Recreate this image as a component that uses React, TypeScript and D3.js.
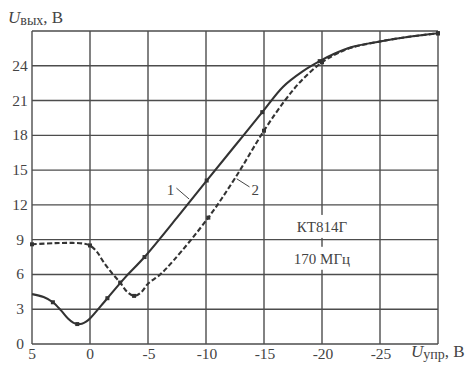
import React from "react";
import * as d3 from "d3";

// Curve 1 (solid) — U_upr, U_out
const curve1U = [5, 4, 3.2, 2.5, 1.9, 1.45, 1.1, 0.7, 0.3, 0, -1.5, -3, -4.7, -7.5, -10.06, -12.5, -14.85, -16.65, -18.3, -19.8, -21.2, -22.5, -25, -27.5, -30];
const curve1V = [4.3, 4.05, 3.6, 2.9, 2.2, 1.85, 1.72, 1.75, 1.95, 2.2, 3.95, 5.7, 7.5, 10.9, 14.1, 17.1, 20.0, 22.2, 23.5, 24.4, 25.1, 25.6, 26.1, 26.5, 26.8];
const curve1MarkU = [3.2, 1.1, -1.5, -4.7, -10.06, -14.85, -19.8, -30];
const curve1MarkV = [3.6, 1.72, 3.95, 7.5, 14.1, 20.0, 24.4, 26.8];

// Curve 2 (dashed)
const curve2U = [5, 3, 1.5, 0.5, 0, -0.6, -1.15, -1.9, -2.6, -3.2, -3.8, -4.4, -5, -6, -7.2, -10.2, -12.5, -15, -16.8, -18.3, -20, -21.2, -22.5, -25, -27.5, -30];
const curve2V = [8.6, 8.7, 8.72, 8.65, 8.5, 7.95, 7.1, 6.1, 5.3, 4.5, 4.15, 4.45, 5.2, 5.95, 7.2, 10.9, 14.3, 18.4, 21.0, 22.8, 24.3, 25.0, 25.55, 26.1, 26.5, 26.8];
const curve2MarkU = [5, 0, -2.6, -3.8, -10.2, -15, -20, -30];
const curve2MarkV = [8.6, 8.5, 5.3, 4.15, 10.9, 18.4, 24.3, 26.8];

const xTicks = [5, 0, -5, -10, -15, -20, -25, -30];
const xTickLabels = ["5", "0", "-5", "-10", "-15", "-20", "-25"];
const yTicks = [0, 3, 6, 9, 12, 15, 18, 21, 24, 27];
const yTickLabels = ["0", "3", "6", "9", "12", "15", "18", "21", "24"];

const deviceLabel = "КТ814Г";
const freqLabel = "170 МГц";

export default function App() {
  const W = 474, H = 373;
  const x = d3.scaleLinear().domain([5, -30]).range([32, 438]);
  const y = d3.scaleLinear().domain([0, 27]).range([344, 31]);
  const line = d3
    .line<[number, number]>()
    .x((d) => x(d[0]))
    .y((d) => y(d[1]))
    .curve(d3.curveCatmullRom.alpha(0.5));
  const c1 = curve1U.map((u, i) => [u, curve1V[i]] as [number, number]);
  const c2 = curve2U.map((u, i) => [u, curve2V[i]] as [number, number]);
  const gridColor = "#4d4d4d";
  const inkColor = "#333";
  const textColor = "#444";
  const font = "'Liberation Serif', 'Times New Roman', 'DejaVu Serif', serif";

  return (
    <svg width={W} height={H} style={{ position: "absolute", left: 0, top: 0, background: "#fff", fontFamily: font }}>
      <rect x={0} y={0} width={W} height={H} fill="#fff" />
      {/* grid */}
      {xTicks.map((t) => (
        <line key={"gx" + t} x1={x(t)} x2={x(t)} y1={y(0)} y2={y(27)} stroke={gridColor} strokeWidth={1.4} />
      ))}
      {yTicks.map((t) => (
        <line key={"gy" + t} x1={x(5)} x2={x(-30)} y1={y(t)} y2={y(t)} stroke={gridColor} strokeWidth={1.4} />
      ))}
      {/* text boxes with white background */}
      <rect x={x(-20) - 30} y={y(10.1) - 12} width={60} height={23} fill="#fff" />
      <rect x={x(-20) - 33} y={y(7.35) - 12} width={66} height={23} fill="#fff" />
      <text x={x(-20)} y={y(10.1) + 5} textAnchor="middle" fontSize={15} fill={textColor} style={{ fontFamily: font }}>{deviceLabel}</text>
      <text x={x(-20)} y={y(7.35) + 5} textAnchor="middle" fontSize={15} fill={textColor} style={{ fontFamily: font }}>{freqLabel}</text>

      {/* curves */}
      <path d={line(c1) || ""} fill="none" stroke={inkColor} strokeWidth={2.1} />
      <path d={line(c2) || ""} fill="none" stroke={inkColor} strokeWidth={2.1} strokeDasharray="5,2.5" />
      {curve1MarkU.map((u, i) => (
        <rect key={"m1" + i} x={x(u) - 2} y={y(curve1MarkV[i]) - 2} width={4} height={4} fill={inkColor} />
      ))}
      {curve2MarkU.map((u, i) => (
        <rect key={"m2" + i} x={x(u) - 2} y={y(curve2MarkV[i]) - 2} width={4} height={4} fill={inkColor} />
      ))}

      {/* curve labels */}
      <line x1={x(-7.45)} y1={y(13.45)} x2={x(-8.55)} y2={y(12.5)} stroke={textColor} strokeWidth={1} />
      <text x={x(-6.95)} y={y(13.3) + 5} textAnchor="middle" fontSize={15} fill={textColor} style={{ fontFamily: font }}>1</text>
      <line x1={x(-13.75)} y1={y(13.55)} x2={x(-12.65)} y2={y(14.25)} stroke={textColor} strokeWidth={1} />
      <text x={x(-14.25)} y={y(13.3) + 5} textAnchor="middle" fontSize={15} fill={textColor} style={{ fontFamily: font }}>2</text>

      {/* tick labels */}
      {xTickLabels.map((l, i) => (
        <text key={"xl" + i} x={x(xTicks[i]) + (l.startsWith("-") ? 1 : 0)} y={359} textAnchor="middle" fontSize={15.5} fill={textColor} style={{ fontFamily: font }}>{l}</text>
      ))}
      {yTickLabels.map((l, i) => (
        <text key={"yl" + i} x={20} y={y(yTicks[i]) + 5} textAnchor="middle" fontSize={15.5} fill={textColor} style={{ fontFamily: font }}>{l}</text>
      ))}

      {/* axis titles */}
      <text x={8} y={23} fontSize={17} fill={textColor} style={{ fontFamily: font }}>
        <tspan fontStyle="italic">U</tspan>
        <tspan fontSize={14} dy={2}>вых</tspan>
        <tspan dy={-2}>, В</tspan>
      </text>
      <text x={411} y={357} fontSize={17} fill={textColor} style={{ fontFamily: font }}>
        <tspan fontStyle="italic">U</tspan>
        <tspan fontSize={14} dy={2}>упр</tspan>
        <tspan dy={-2}>, В</tspan>
      </text>
    </svg>
  );
}
